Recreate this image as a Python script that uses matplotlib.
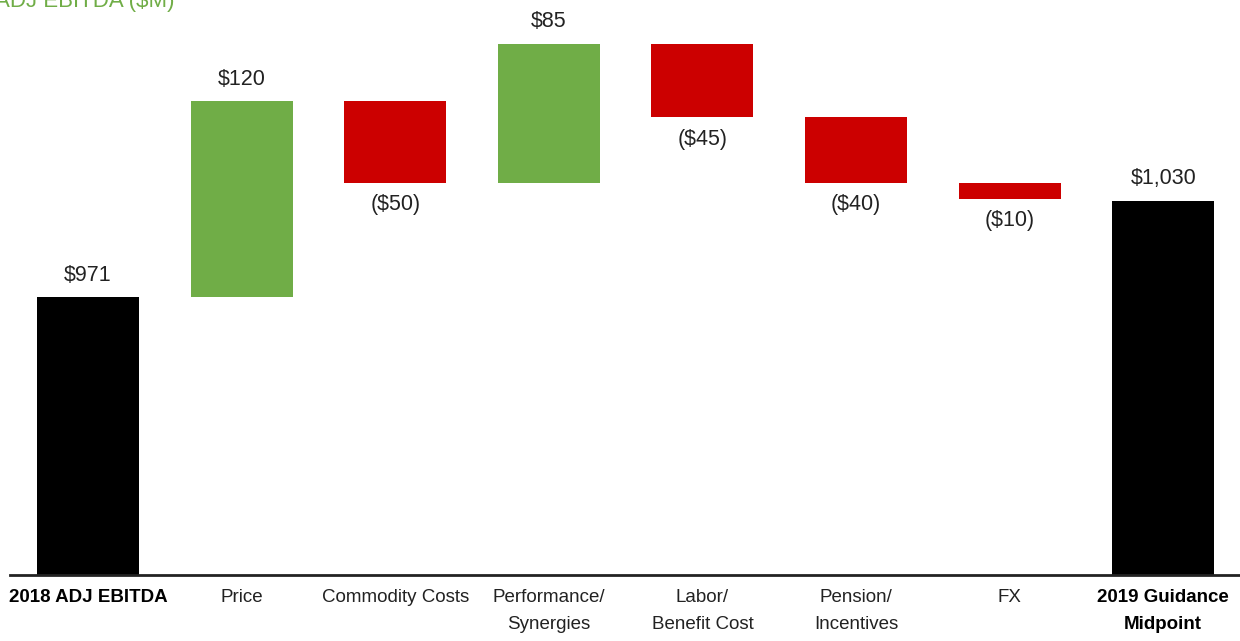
import matplotlib
matplotlib.use("Agg")
import matplotlib.pyplot as plt

plt.rcParams['font.family'] = ['Liberation Sans Narrow', 'Liberation Sans', 'DejaVu Sans']

# EBITDA bridge, $M
categories = ["2018 ADJ EBITDA", "Price", "Commodity Costs", "Performance/\nSynergies",
              "Labor/\nBenefit Cost", "Pension/\nIncentives", "FX", "2019 Guidance\nMidpoint"]
start_value = 971
deltas = [120, -50, 85, -45, -40, -10]
end_value = 1030

GREEN = "#70AD47"
RED = "#CC0000"

fig = plt.figure(figsize=(12.4, 6.41), dpi=100)
ax = fig.add_axes([10 / 1240, 1 - 575 / 641, 1 - 10 / 1240, 575 / 641])

bar_w = 0.664
ymin, ymax = 800.8, 1152.8
val_fs = 15.5


def fmt(v):
    s = "${:,}".format(abs(v))
    return "(" + s + ")" if v < 0 else s


# total bars start at the axis floor
ax.bar(0, start_value - ymin, bottom=ymin, width=bar_w, color="black")
ax.text(0, start_value + 7, fmt(start_value), ha="center", va="bottom", fontsize=val_fs,
        color="#222222")

running = start_value
for i, d in enumerate(deltas, start=1):
    lo = running if d > 0 else running + d
    ax.bar(i, abs(d), bottom=lo, width=bar_w, color=GREEN if d > 0 else RED)
    if d > 0:
        ax.text(i, lo + d + 7, fmt(d), ha="center", va="bottom", fontsize=val_fs,
                color="#222222")
    else:
        ax.text(i, lo - 7, fmt(d), ha="center", va="top", fontsize=val_fs, color="#222222")
    running += d

last = len(categories) - 1
ax.bar(last, end_value - ymin, bottom=ymin, width=bar_w, color="black")
ax.text(last, end_value + 7, fmt(end_value), ha="center", va="bottom", fontsize=val_fs,
        color="#222222")

ax.set_xlim(-0.508, 7.5)
ax.set_ylim(ymin, ymax)
for s in ["top", "right", "left"]:
    ax.spines[s].set_visible(False)
ax.spines["bottom"].set_linewidth(2)
ax.spines["bottom"].set_color("#222222")
ax.set_yticks([])
ax.set_xticks(range(len(categories)))
ax.set_xticklabels(categories, fontsize=13.5, linespacing=1.8, color="#222222")
ax.tick_params(axis="x", length=0, pad=10)
for i, lbl in enumerate(ax.get_xticklabels()):
    if i in (0, last):
        lbl.set_fontweight("bold")
        lbl.set_color("black")

fig.text(-0.004, 1 - 7 / 641, "ADJ EBITDA ($M)", color=GREEN, fontsize=16,
         ha="left", va="baseline")

fig.savefig("out.png", dpi=100)
